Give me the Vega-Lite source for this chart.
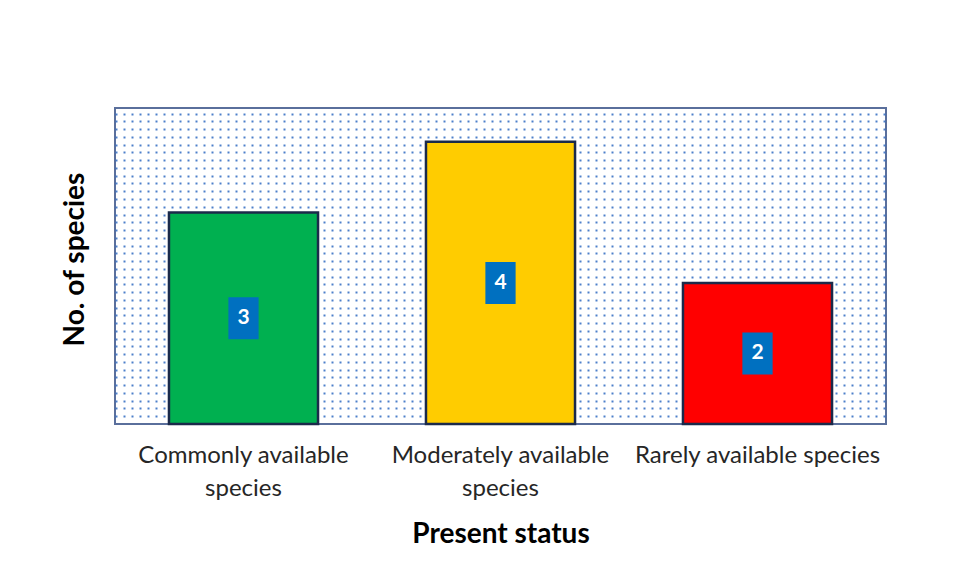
{
  "$schema": "https://vega.github.io/schema/vega-lite/v6.json",
  "width": 771,
  "height": 316,
  "autosize": {"type": "none"},
  "padding": {"left": 115, "top": 108, "right": 75, "bottom": 158},
  "background": "white",
  "config": {
    "view": {"stroke": "#5a6f9c", "strokeWidth": 2},
    "font": "Lato"
  },
  "data": {
    "values": [
      {"status": "Commonly available species", "count": 3, "color": "#00b050"},
      {"status": "Moderately available species", "count": 4, "color": "#ffcc00"},
      {"status": "Rarely available species", "count": 2, "color": "#ff0000"}
    ]
  },
  "encoding": {
    "x": {
      "field": "status",
      "type": "nominal",
      "sort": null,
      "scale": {"paddingInner": 0.42, "paddingOuter": 0.21},
      "axis": {
        "title": "Present status",
        "titleFont": "Lato",
        "titleFontSize": 28,
        "titleFontWeight": "bold",
        "titleColor": "#000000",
        "titlePadding": 20,
        "labelAngle": 0,
        "labelFont": "Lato",
        "labelFontSize": 24,
        "labelColor": "#262626",
        "labelPadding": 19,
        "labelLineHeight": 33,
        "labelLimit": 400,
        "labelExpr": "datum.value == 'Commonly available species' ? ['Commonly available', 'species'] : datum.value == 'Moderately available species' ? ['Moderately available', 'species'] : datum.value",
        "ticks": false,
        "domain": false
      }
    }
  },
  "layer": [
    {
      "mark": {"type": "bar", "stroke": "#1b2a4a", "strokeWidth": 2.5},
      "encoding": {
        "y": {
          "field": "count",
          "type": "quantitative",
          "scale": {"domain": [0, 4.48], "nice": false},
          "axis": {
            "title": "No. of species",
            "titleFont": "Lato",
            "titleFontSize": 28,
            "titleFontWeight": "bold",
            "titleColor": "#000000",
            "titlePadding": 26,
            "titleY": 151,
            "labels": false,
            "ticks": false,
            "domain": false,
            "grid": true,
            "gridColor": "#3a72c4",
            "gridOpacity": 0.9,
            "gridWidth": 2,
            "gridDash": [2, 6],
            "tickCount": 100,
            "values": [0.11, 0.22, 0.33, 0.44, 0.55, 0.66, 0.77, 0.88, 0.99, 1.1, 1.21, 1.32, 1.43, 1.54, 1.65, 1.76, 1.87, 1.98, 2.09, 2.2, 2.31, 2.42, 2.53, 2.64, 2.75, 2.86, 2.97, 3.08, 3.19, 3.3, 3.41, 3.52, 3.63, 3.74, 3.85, 3.96, 4.07, 4.18, 4.29, 4.4]
          }
        },
        "fill": {"field": "color", "type": "nominal", "scale": null}
      }
    },
    {
      "transform": [{"calculate": "datum.count / 2", "as": "mid"}],
      "mark": {"type": "point", "shape": "M-0.72,-1L0.72,-1L0.72,1L-0.72,1Z", "filled": true, "opacity": 1, "color": "#0070c0", "size": 1764},
      "encoding": {
        "y": {"field": "mid", "type": "quantitative"}
      }
    },
    {
      "transform": [{"calculate": "datum.count / 2", "as": "mid"}],
      "mark": {"type": "text", "color": "white", "font": "Lato", "fontSize": 21, "fontWeight": "bold", "baseline": "middle", "align": "center"},
      "encoding": {
        "y": {"field": "mid", "type": "quantitative"},
        "text": {"field": "count", "type": "quantitative"}
      }
    }
  ]
}
